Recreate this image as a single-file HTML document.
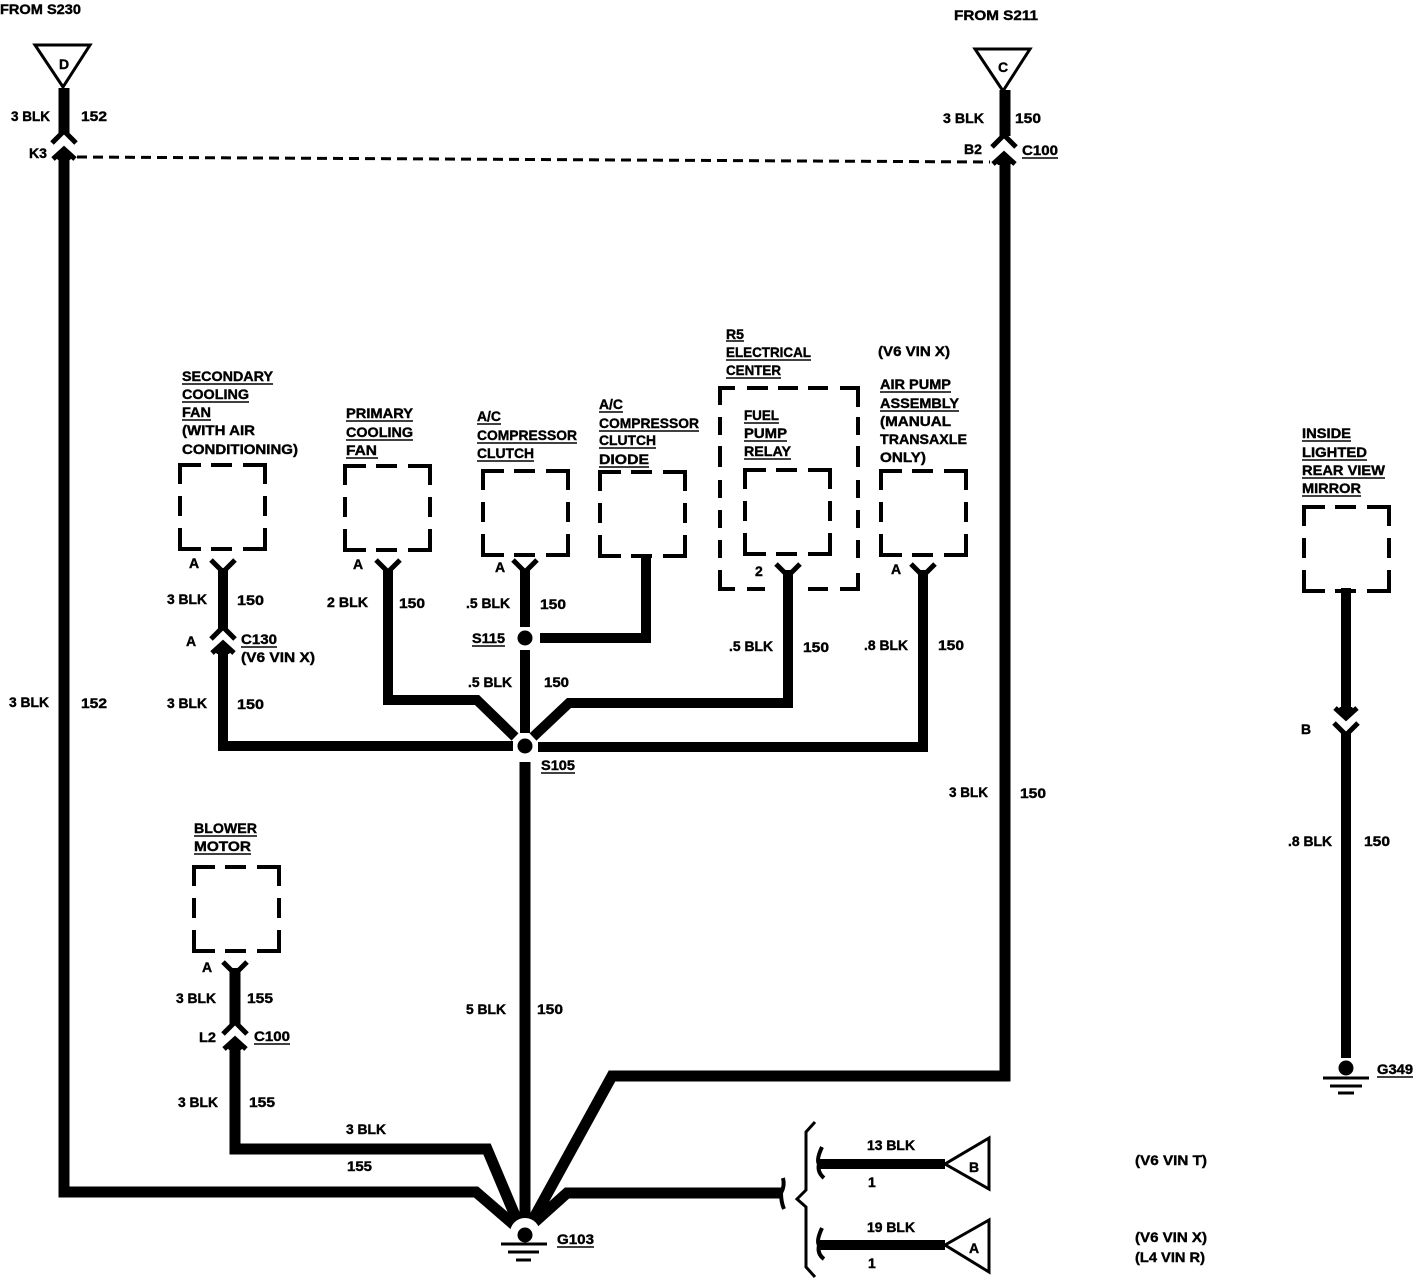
<!DOCTYPE html>
<html><head><meta charset="utf-8">
<style>
html,body{margin:0;padding:0;background:#fff}
svg{display:block}
text{font-family:"Liberation Sans",sans-serif;font-weight:bold;font-size:14px;fill:#000;stroke:#000;stroke-width:.4}
.c{text-anchor:middle}
</style></head><body>
<svg width="1414" height="1280" viewBox="0 0 1414 1280" xmlns="http://www.w3.org/2000/svg">
<defs>
<path id="box" fill="none" stroke="#000" stroke-width="4" d="M0,19V0H21M31,0H52M63,0H85V19M0,31V51M85,31V51M0,63V84H21M31,84H52M63,84H85V63"/>
<path id="yt" fill="none" stroke="#000" stroke-width="5" d="M-12,-10L0,2L12,-10"/>
<path id="yb" fill="none" stroke="#000" stroke-width="5" d="M-12,10L0,-2L12,10"/>
<g id="up"><path fill="none" stroke="#000" stroke-width="5" d="M-11,8L0,-2L11,8"/><path d="M0,-4L9,5L6,9H-6L-9,5Z"/></g>
<g id="down"><path fill="none" stroke="#000" stroke-width="5" d="M-11,-8L0,2L11,-8"/><path d="M0,4L9,-5L6,-9H-6L-9,-5Z"/></g>
</defs>
<rect width="1414" height="1280" fill="#fff"/>

<!-- triangles -->
<path d="M35,45H90L63,87Z" fill="#fff" stroke="#000" stroke-width="3"/>
<path d="M975,49H1030L1003,91Z" fill="#fff" stroke="#000" stroke-width="3"/>
<path d="M989,1138L945,1164L989,1189Z" fill="#fff" stroke="#000" stroke-width="3"/>
<path d="M989,1220L945,1245L989,1272Z" fill="#fff" stroke="#000" stroke-width="3"/>

<!-- heavy wires -->
<g fill="none" stroke="#000" stroke-width="11" stroke-linejoin="miter">
<path d="M64,88V133"/>
<path d="M64,156V1192H476L520,1230"/>
<path d="M1005,90V136"/>
<path d="M1005,160V1076H612L530,1225"/>
<path d="M235,1045V1149H487L522,1232"/>
<path d="M525,762V1232"/>
<path d="M781,1193H567L528,1228"/>
<path d="M235,968V1024"/>
</g>
<g fill="none" stroke="#000" stroke-width="10">
<path d="M223,568V630"/>
<path d="M223,652V746H513"/>
<path d="M388,570V700H477L515,737"/>
<path d="M525,570V627"/>
<path d="M525,650V733"/>
<path d="M540,638H646V555"/>
<path d="M533,737L569,703H788V570"/>
<path d="M538,747H923V570"/>
<path d="M1346,588V712"/>
<path d="M1346,733V1058"/>
<path d="M819,1164H945"/>
<path d="M819,1245H945"/>
</g>

<!-- connector ends -->
<use href="#yb" x="64" y="133"/><use href="#up" x="64" y="151"/>
<use href="#yb" x="1004" y="137"/><use href="#up" x="1004" y="156"/>
<use href="#yt" x="223" y="570"/><use href="#yb" x="223" y="629"/><use href="#up" x="223" y="645"/>
<use href="#yt" x="388" y="570"/><use href="#yt" x="525" y="570"/>
<use href="#yt" x="788" y="574"/><use href="#yt" x="923" y="574"/>
<use href="#yt" x="235" y="972"/><use href="#yb" x="235" y="1024"/><use href="#up" x="235" y="1041"/>
<use href="#down" x="1346" y="716"/><use href="#yt" x="1346" y="733"/>

<!-- splices / grounds -->
<circle cx="525" cy="746" r="7.5"/><circle cx="525" cy="638" r="7.5"/>
<circle cx="525" cy="1233" r="15" fill="#fff"/>
<circle cx="525" cy="1235" r="7.5"/><circle cx="1346" cy="1068" r="7.5"/>
<path stroke="#000" stroke-width="3" d="M501,1244H547M508,1252H539M516,1260H531M1323,1078H1369M1330,1086H1362M1338,1093H1354"/>

<!-- dashed link -->
<path d="M77,157L990,162" fill="none" stroke="#000" stroke-width="3" stroke-dasharray="10,6"/>

<!-- boxes -->
<use href="#box" x="180" y="465"/><use href="#box" x="345" y="466"/>
<use href="#box" x="483" y="471"/><use href="#box" x="600" y="472"/>
<use href="#box" x="745" y="470"/><use href="#box" x="881" y="471"/>
<use href="#box" x="1304" y="507"/><use href="#box" x="194" y="867"/>
<path fill="none" stroke="#000" stroke-width="4" d="M720,405V388H735M747,388H768M778,388H798M808,388H828M840,388H858V407M720,417V435M720,446V467M720,480V498M720,510V528M720,570V589H735M747,589H765M808,589H828M840,589H858V573M858,417V435M858,446V467M858,480V498M858,510V528M858,540V558M720,540V558"/>

<!-- bracket -->
<path fill="none" stroke="#000" stroke-width="3" d="M815,1122L806,1132V1190L797,1199L806,1207V1267L815,1277"/>
<path fill="none" stroke="#000" stroke-width="4" d="M783,1178Q785,1186 781,1193Q781,1202 784,1209"/>
<path fill="none" stroke="#000" stroke-width="4" d="M822,1147Q816,1160 819,1164Q817,1172 824,1178M822,1228Q816,1241 819,1245Q817,1254 824,1259"/>

<!-- labels -->
<g>
<text x="0" y="14" textLength="81" lengthAdjust="spacingAndGlyphs">FROM S230</text>
<text x="954" y="20" textLength="84" lengthAdjust="spacingAndGlyphs">FROM S211</text>
<text x="64" y="69" class="c">D</text><text x="1003" y="72" class="c">C</text>
<text x="11" y="121" textLength="39" lengthAdjust="spacingAndGlyphs">3 BLK</text>
<text x="81" y="121" textLength="26" lengthAdjust="spacingAndGlyphs">152</text>
<text x="29" y="158" textLength="18" lengthAdjust="spacingAndGlyphs">K3</text>
<text x="943" y="123" textLength="41" lengthAdjust="spacingAndGlyphs">3 BLK</text>
<text x="1015" y="123" textLength="26" lengthAdjust="spacingAndGlyphs">150</text>
<text x="964" y="154" textLength="18" lengthAdjust="spacingAndGlyphs">B2</text>
<text x="1022" y="155" textLength="36" lengthAdjust="spacingAndGlyphs">C100</text>

<g transform="translate(0,-1)">
<text x="182" y="382" textLength="91" lengthAdjust="spacingAndGlyphs">SECONDARY</text>
<text x="182" y="400" textLength="67" lengthAdjust="spacingAndGlyphs">COOLING</text>
<text x="182" y="418" textLength="29" lengthAdjust="spacingAndGlyphs">FAN</text>
<text x="182" y="436" textLength="73" lengthAdjust="spacingAndGlyphs">(WITH AIR</text>
<text x="182" y="455" textLength="116" lengthAdjust="spacingAndGlyphs">CONDITIONING)</text>

<text x="346" y="419" textLength="67" lengthAdjust="spacingAndGlyphs">PRIMARY</text>
<text x="346" y="438" textLength="67" lengthAdjust="spacingAndGlyphs">COOLING</text>
<text x="346" y="456" textLength="31" lengthAdjust="spacingAndGlyphs">FAN</text>

<text x="477" y="422" textLength="24" lengthAdjust="spacingAndGlyphs">A/C</text>
<text x="477" y="441" textLength="100" lengthAdjust="spacingAndGlyphs">COMPRESSOR</text>
<text x="477" y="459" textLength="57" lengthAdjust="spacingAndGlyphs">CLUTCH</text>

<text x="599" y="410" textLength="24" lengthAdjust="spacingAndGlyphs">A/C</text>
<text x="599" y="429" textLength="100" lengthAdjust="spacingAndGlyphs">COMPRESSOR</text>
<text x="599" y="446" textLength="57" lengthAdjust="spacingAndGlyphs">CLUTCH</text>
<text x="599" y="465" textLength="50" lengthAdjust="spacingAndGlyphs">DIODE</text>

<text x="726" y="340" textLength="18" lengthAdjust="spacingAndGlyphs">R5</text>
<text x="726" y="358" textLength="85" lengthAdjust="spacingAndGlyphs">ELECTRICAL</text>
<text x="726" y="376" textLength="55" lengthAdjust="spacingAndGlyphs">CENTER</text>
<text x="744" y="421" textLength="35" lengthAdjust="spacingAndGlyphs">FUEL</text>
<text x="744" y="439" textLength="43" lengthAdjust="spacingAndGlyphs">PUMP</text>
<text x="744" y="457" textLength="47" lengthAdjust="spacingAndGlyphs">RELAY</text>

<text x="880" y="390" textLength="71" lengthAdjust="spacingAndGlyphs">AIR PUMP</text>
<text x="880" y="409" textLength="79" lengthAdjust="spacingAndGlyphs">ASSEMBLY</text>
<text x="880" y="427" textLength="71" lengthAdjust="spacingAndGlyphs">(MANUAL</text>
<text x="880" y="445" textLength="87" lengthAdjust="spacingAndGlyphs">TRANSAXLE</text>
<text x="880" y="463" textLength="46" lengthAdjust="spacingAndGlyphs">ONLY)</text>

<text x="1302" y="439" textLength="49" lengthAdjust="spacingAndGlyphs">INSIDE</text>
<text x="1302" y="458" textLength="65" lengthAdjust="spacingAndGlyphs">LIGHTED</text>
<text x="1302" y="476" textLength="83" lengthAdjust="spacingAndGlyphs">REAR VIEW</text>
<text x="1302" y="494" textLength="59" lengthAdjust="spacingAndGlyphs">MIRROR</text>

<text x="194" y="834" textLength="63" lengthAdjust="spacingAndGlyphs">BLOWER</text>
<text x="194" y="852" textLength="57" lengthAdjust="spacingAndGlyphs">MOTOR</text>
<path stroke="#000" stroke-width="1.6" fill="none" d="M182,385H273M182,403H249M182,421H211M346,422H413M346,441H413M346,459H378M477,425H501M477,444H577M477,462H534M599,413H623M599,432H699M599,449H656M599,468H649M726,342H744M726,361H811M726,379H781M744,424H779M744,442H787M744,460H791M880,393H951M880,412H959M1302,442H1351M1302,461H1367M1302,479H1385M1302,497H1361M194,837H257M194,855H251"/>
</g>

<text x="878" y="356" textLength="72" lengthAdjust="spacingAndGlyphs">(V6 VIN X)</text>

<text x="189" y="568">A</text><text x="353" y="569">A</text><text x="495" y="572">A</text>
<text x="755" y="576">2</text><text x="891" y="574">A</text><text x="186" y="646">A</text>
<text x="202" y="972">A</text><text x="1301" y="734">B</text>

<text x="167" y="604" textLength="40" lengthAdjust="spacingAndGlyphs">3 BLK</text>
<text x="237" y="605" textLength="27" lengthAdjust="spacingAndGlyphs">150</text>
<text x="241" y="644" textLength="36" lengthAdjust="spacingAndGlyphs">C130</text>
<text x="241" y="662" textLength="74" lengthAdjust="spacingAndGlyphs">(V6 VIN X)</text>
<text x="327" y="607" textLength="41" lengthAdjust="spacingAndGlyphs">2 BLK</text>
<text x="399" y="608" textLength="26" lengthAdjust="spacingAndGlyphs">150</text>
<text x="466" y="608" textLength="44" lengthAdjust="spacingAndGlyphs">.5 BLK</text>
<text x="540" y="609" textLength="26" lengthAdjust="spacingAndGlyphs">150</text>
<text x="472" y="643" textLength="33" lengthAdjust="spacingAndGlyphs">S115</text>
<text x="468" y="687" textLength="44" lengthAdjust="spacingAndGlyphs">.5 BLK</text>
<text x="544" y="687" textLength="25" lengthAdjust="spacingAndGlyphs">150</text>
<text x="729" y="651" textLength="44" lengthAdjust="spacingAndGlyphs">.5 BLK</text>
<text x="803" y="652" textLength="26" lengthAdjust="spacingAndGlyphs">150</text>
<text x="864" y="650" textLength="44" lengthAdjust="spacingAndGlyphs">.8 BLK</text>
<text x="938" y="650" textLength="26" lengthAdjust="spacingAndGlyphs">150</text>
<text x="167" y="708" textLength="40" lengthAdjust="spacingAndGlyphs">3 BLK</text>
<text x="237" y="709" textLength="27" lengthAdjust="spacingAndGlyphs">150</text>
<text x="9" y="707" textLength="40" lengthAdjust="spacingAndGlyphs">3 BLK</text>
<text x="81" y="708" textLength="26" lengthAdjust="spacingAndGlyphs">152</text>
<text x="541" y="770" textLength="34" lengthAdjust="spacingAndGlyphs">S105</text>
<text x="949" y="797" textLength="39" lengthAdjust="spacingAndGlyphs">3 BLK</text>
<text x="1020" y="798" textLength="26" lengthAdjust="spacingAndGlyphs">150</text>
<text x="1288" y="846" textLength="44" lengthAdjust="spacingAndGlyphs">.8 BLK</text>
<text x="1364" y="846" textLength="26" lengthAdjust="spacingAndGlyphs">150</text>
<text x="1377" y="1074" textLength="36" lengthAdjust="spacingAndGlyphs">G349</text>
<text x="176" y="1003" textLength="40" lengthAdjust="spacingAndGlyphs">3 BLK</text>
<text x="247" y="1003" textLength="26" lengthAdjust="spacingAndGlyphs">155</text>
<text x="199" y="1042" textLength="17" lengthAdjust="spacingAndGlyphs">L2</text>
<text x="254" y="1041" textLength="36" lengthAdjust="spacingAndGlyphs">C100</text>
<text x="178" y="1107" textLength="40" lengthAdjust="spacingAndGlyphs">3 BLK</text>
<text x="249" y="1107" textLength="26" lengthAdjust="spacingAndGlyphs">155</text>
<text x="346" y="1134" textLength="40" lengthAdjust="spacingAndGlyphs">3 BLK</text>
<text x="347" y="1171" textLength="25" lengthAdjust="spacingAndGlyphs">155</text>
<text x="466" y="1014" textLength="40" lengthAdjust="spacingAndGlyphs">5 BLK</text>
<text x="537" y="1014" textLength="26" lengthAdjust="spacingAndGlyphs">150</text>
<text x="557" y="1244" textLength="37" lengthAdjust="spacingAndGlyphs">G103</text>
<text x="867" y="1150" textLength="48" lengthAdjust="spacingAndGlyphs">13 BLK</text>
<text x="868" y="1187">1</text>
<text x="867" y="1232" textLength="48" lengthAdjust="spacingAndGlyphs">19 BLK</text>
<text x="868" y="1268">1</text>
<text x="974" y="1172" class="c">B</text><text x="974" y="1253" class="c">A</text>
<text x="1135" y="1165" textLength="72" lengthAdjust="spacingAndGlyphs">(V6 VIN T)</text>
<text x="1135" y="1242" textLength="72" lengthAdjust="spacingAndGlyphs">(V6 VIN X)</text>
<text x="1135" y="1262" textLength="70" lengthAdjust="spacingAndGlyphs">(L4 VIN R)</text>
</g>

<!-- underlines -->
<path stroke="#000" stroke-width="1.6" fill="none" d="M1022,158H1058M241,647H277M472,646H505M541,773H575M1377,1077H1413M254,1044H290M557,1247H594"/>
</svg>
</body></html>
